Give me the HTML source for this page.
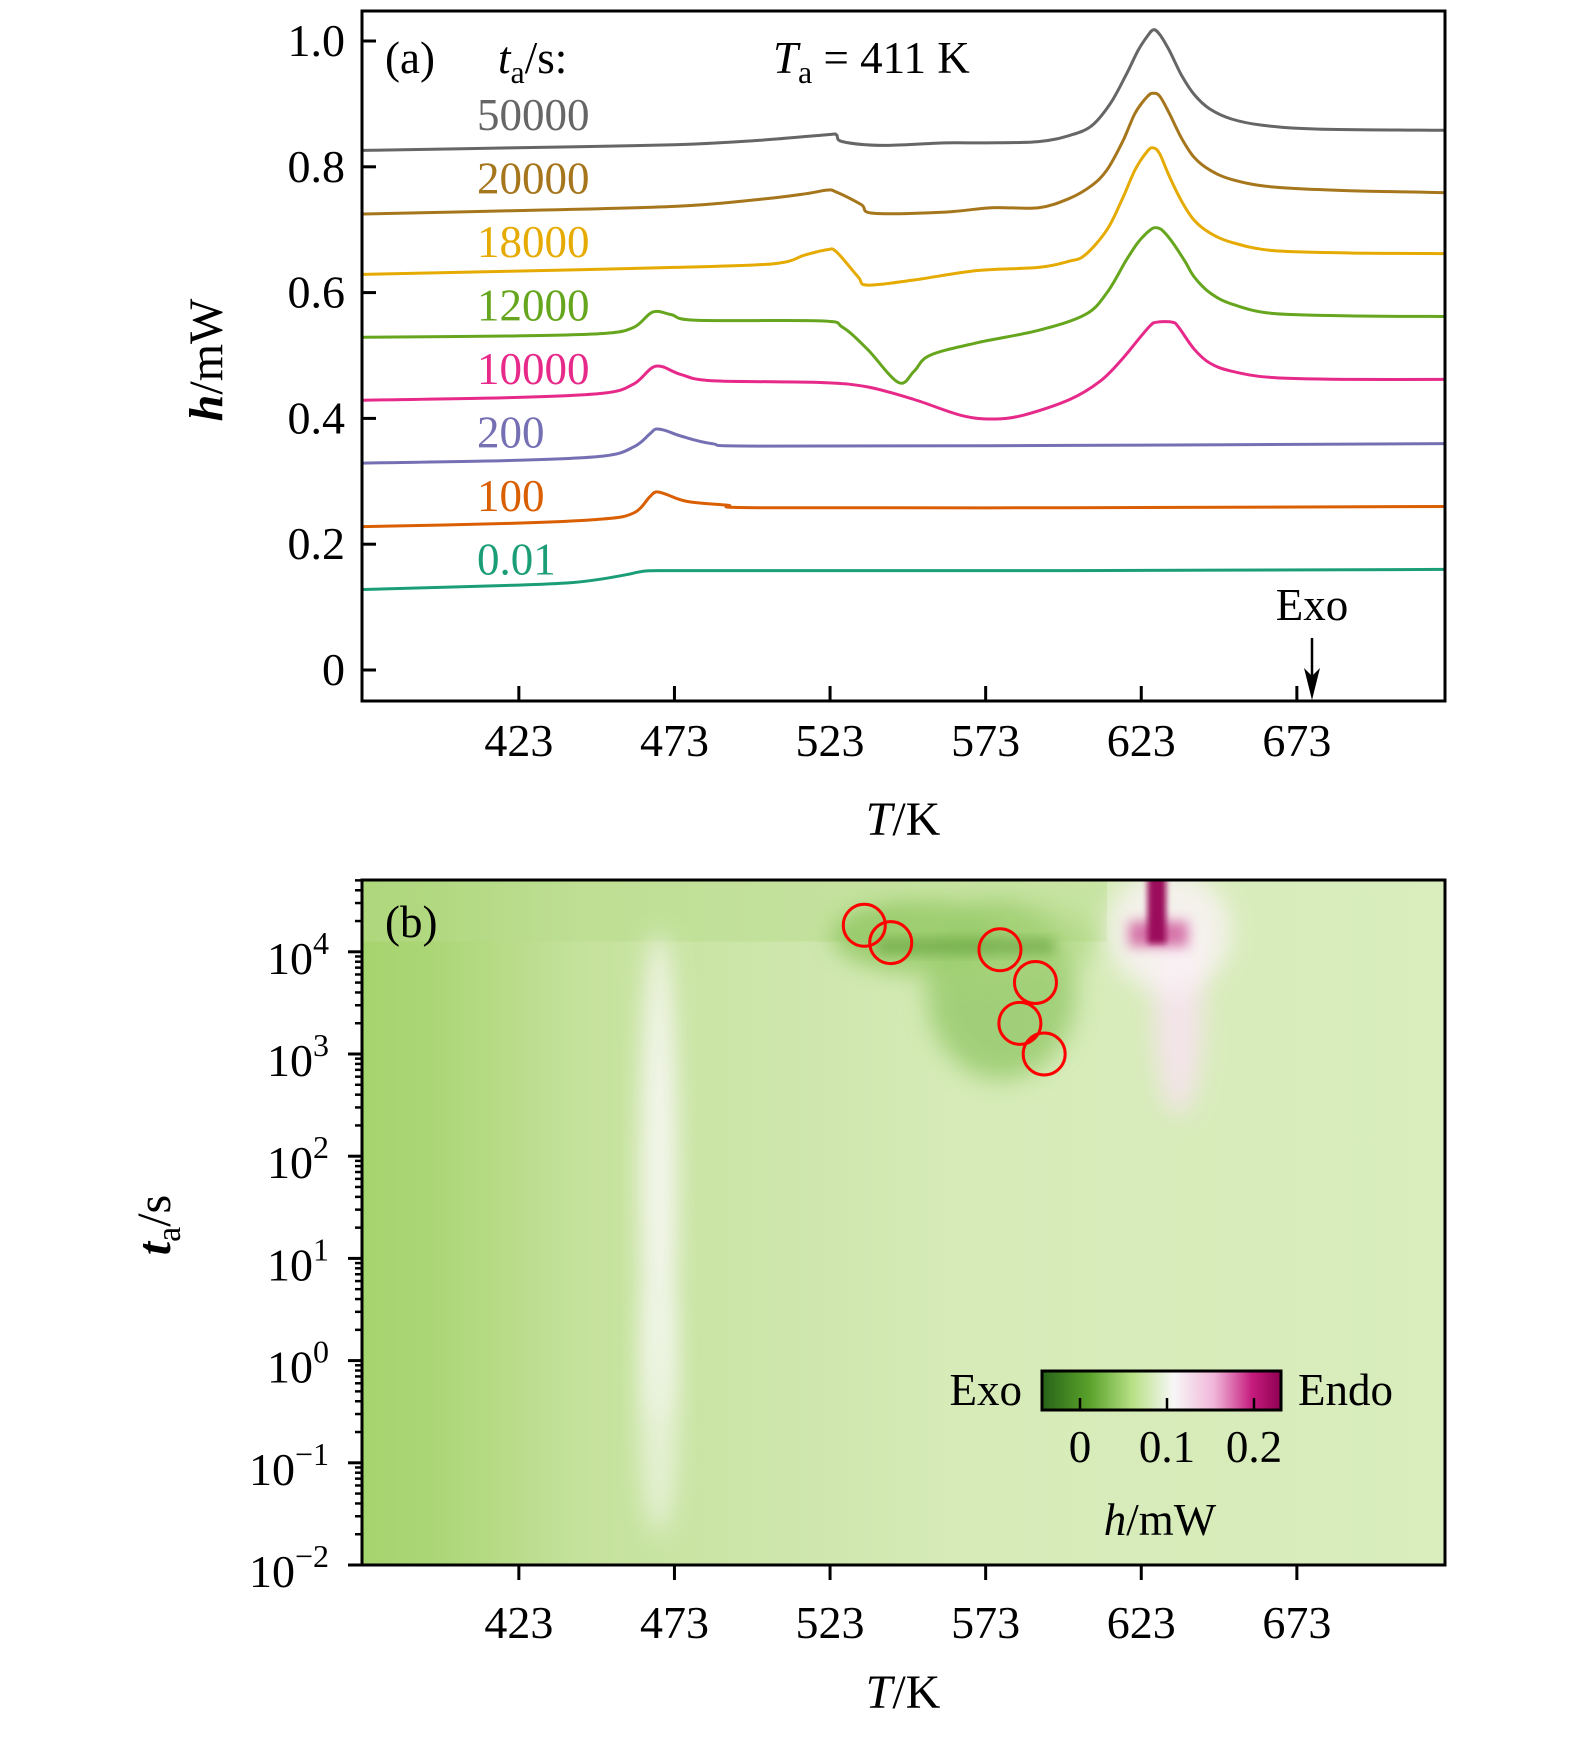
<!DOCTYPE html>
<html><head><meta charset="utf-8"><style>
html,body{margin:0;padding:0;background:#fff}
svg text{font-family:"Liberation Serif",serif;fill:#000}
</style></head><body>
<svg id="chart" width="1575" height="1732" viewBox="0 0 1575 1732" xmlns="http://www.w3.org/2000/svg">
<defs>
<linearGradient id="cbar" x1="0" x2="1" y1="0" y2="0">
<stop offset="0" stop-color="#276419"/><stop offset="0.2" stop-color="#5aa22b"/><stop offset="0.38" stop-color="#b8e186"/><stop offset="0.55" stop-color="#f7f7f7"/><stop offset="0.72" stop-color="#f1b6da"/><stop offset="0.88" stop-color="#c51b7d"/><stop offset="1" stop-color="#8e0152"/>
</linearGradient>
<linearGradient id="baseGrad" x1="0" x2="1" y1="0" y2="0">
<stop offset="0" stop-color="#a6d46e"/><stop offset="0.07" stop-color="#acd677"/><stop offset="0.14" stop-color="#b9dc8a"/><stop offset="0.2" stop-color="#c5e29c"/><stop offset="0.42" stop-color="#cfe7ae"/><stop offset="0.55" stop-color="#d6ebb8"/><stop offset="1" stop-color="#d9edbd"/>
</linearGradient>
<filter id="blur12" x="-50%" y="-50%" width="200%" height="200%"><feGaussianBlur stdDeviation="12"/></filter>
<filter id="blur6" x="-50%" y="-50%" width="200%" height="200%"><feGaussianBlur stdDeviation="6"/></filter>
<filter id="blur3" x="-50%" y="-50%" width="200%" height="200%"><feGaussianBlur stdDeviation="3"/></filter>
<clipPath id="clipB"><rect x="362" y="880" width="1083" height="685"/></clipPath>
<clipPath id="clipA"><rect x="362" y="11" width="1083" height="690"/></clipPath>
</defs>
<g id="panelA"></g>
<g id="panelB"></g>
</svg>
<script>
// ---------- Panel (a) data ----------
const seriesNames = ["50000","20000","18000","12000","10000","200","100","0.01"];
const seriesColors = ["#666666","#a6761d","#e6ab02","#66a61e","#e7298a","#7570b3","#d95f02","#1b9e77"];
const T_50000 = [373,420,473,500,522,525,527,540,560,573,590,600,607,613,618,622,625,627,629,632,636,640,645,652,662,680,721];
const h_50000 = [0.826,0.830,0.835,0.842,0.851,0.851,0.840,0.834,0.838,0.838,0.840,0.850,0.865,0.90,0.945,0.985,1.008,1.018,1.01,0.985,0.945,0.915,0.892,0.876,0.866,0.860,0.858];
const T_20000 = [373,420,473,500,515,522,525,533,537,560,575,590,600,607,612,617,621,625,627,629,632,636,640,645,652,665,690,721];
const h_20000 = [0.725,0.730,0.737,0.748,0.757,0.763,0.760,0.740,0.726,0.728,0.735,0.735,0.750,0.770,0.795,0.840,0.885,0.912,0.917,0.912,0.885,0.845,0.815,0.795,0.780,0.768,0.762,0.759];
const T_18000 = [373,420,473,505,515,522,525,532,535,550,570,590,600,605,612,617,621,625,627,629,632,636,640,645,652,665,690,721];
const h_18000 = [0.629,0.634,0.640,0.646,0.660,0.668,0.665,0.625,0.612,0.620,0.635,0.640,0.650,0.660,0.700,0.750,0.795,0.825,0.830,0.820,0.785,0.745,0.715,0.695,0.680,0.667,0.663,0.662];
const T_12000 = [373,420,450,460,466,472,480,520,527,535,545,550,555,570,590,605,612,618,622,626,628,630,633,637,640,645,652,665,690,721];
const h_12000 = [0.529,0.531,0.535,0.545,0.569,0.565,0.556,0.555,0.545,0.510,0.457,0.475,0.500,0.520,0.540,0.565,0.600,0.650,0.680,0.700,0.703,0.698,0.680,0.650,0.625,0.600,0.582,0.567,0.563,0.562];
const T_10000 = [373,420,450,460,467,475,485,520,535,550,565,575,585,600,610,617,622,626,628,633,635,640,645,652,665,690,721];
const h_10000 = [0.429,0.433,0.440,0.455,0.483,0.470,0.460,0.457,0.450,0.430,0.405,0.399,0.405,0.430,0.460,0.495,0.525,0.548,0.553,0.553,0.545,0.510,0.488,0.475,0.465,0.462,0.462];
const T_200 = [373,420,450,460,465,467,470,475,485,500,600,721];
const h_200 = [0.329,0.333,0.340,0.355,0.375,0.383,0.381,0.372,0.360,0.356,0.357,0.360];
const T_100 = [373,420,450,460,465,467,470,477,490,500,600,721];
const h_100 = [0.228,0.233,0.240,0.250,0.275,0.283,0.280,0.268,0.262,0.258,0.258,0.260];
const T_001 = [373,423,440,450,458,463,470,500,600,721];
const h_001 = [0.128,0.135,0.139,0.145,0.152,0.157,0.158,0.158,0.158,0.160];
const seriesT = [T_50000,T_20000,T_18000,T_12000,T_10000,T_200,T_100,T_001];
const seriesH = [h_50000,h_20000,h_18000,h_12000,h_10000,h_200,h_100,h_001];
const xTicks = [423,473,523,573,623,673];
const yTicksA = [0,0.2,0.4,0.6,0.8,1.0];
const yTickLabelsA = ["0","0.2","0.4","0.6","0.8","1.0"];
// ---------- Panel (b) data ----------
const circleT = [534,542.5,577.6,589,584,591.8];
const circleLogT = [4.26,4.09,4.02,3.70,3.30,3.00];
const yTicksBexp = [-2,-1,0,1,2,3,4];
const cbarTicks = [0,0.1,0.2];
const cbarLabels = ["0","0.1","0.2"];
const blobT = [468,468,578,550,570,635,632];
const blobLog = [1.8,-0.5,3.6,4.15,4.1,3.4,4.2];
const blobRT = [6,6,24,26,40,8,20];
const blobRL = [2.4,1.2,0.85,0.3,0.4,1.0,0.6];
const blobColor = ["#f7f7f2","#eef5e4","#8cc45e","#7ab94a","#a8d47a","#f7e3ef","#fbf3f7"];
const blobOpacity = [0.95,0.8,0.7,0.7,0.55,0.9,0.8];

const NS="http://www.w3.org/2000/svg";
function mk(tag, attrs, parent, text){const e=document.createElementNS(NS,tag);for(const k in attrs)e.setAttribute(k,attrs[k]);if(text!==undefined)e.textContent=text;parent.appendChild(e);return e;}

const X0=362,X1=1445,TMIN=372.6,TMAX=720.6;
function xs(T){return X0+(T-TMIN)/(TMAX-TMIN)*(X1-X0);}
const YA0=670,YA_PER=629;
function ya(h){return YA0-h*YA_PER;}
const YB_BOT=1565,YB_DEC=102.2;
function yb(l){return YB_BOT-(l+2)*YB_DEC;}
function smoothPath(p){
  let d='M'+p[0][0].toFixed(1)+','+p[0][1].toFixed(1);
  for(let i=0;i<p.length-1;i++){
    const p0=p[Math.max(0,i-1)],p1=p[i],p2=p[i+1],p3=p[Math.min(p.length-1,i+2)];
    const c1x=p1[0]+(p2[0]-p0[0])/6,c1y=p1[1]+(p2[1]-p0[1])/6;
    const c2x=p2[0]-(p3[0]-p1[0])/6,c2y=p2[1]-(p3[1]-p1[1])/6;
    d+=' C'+c1x.toFixed(1)+','+c1y.toFixed(1)+' '+c2x.toFixed(1)+','+c2y.toFixed(1)+' '+p2[0].toFixed(1)+','+p2[1].toFixed(1);
  }
  return d;
}

const A=document.getElementById('panelA');
const B=document.getElementById('panelB');

const curves=mk('g',{'clip-path':'url(#clipA)'},A);


for(let i=0;i<seriesNames.length;i++){
  const pts=seriesT[i].map((t,j)=>[xs(t),ya(seriesH[i][j])]);
  const pl=mk('path',{d:smoothPath(pts),fill:'none',stroke:seriesColors[i],'stroke-width':3,'stroke-linejoin':'round'},curves);
  
  
  const lb=mk('text',{x:477,y:130+i*63.5,'font-size':45,fill:seriesColors[i],style:'fill:'+seriesColors[i]},A,seriesNames[i]);
  
  
}
const frameA=mk('rect',{x:X0,y:11,width:X1-X0,height:690,fill:'none',stroke:'#000','stroke-width':3},A);


xTicks.forEach(t=>{
  const tk=mk('line',{x1:xs(t),x2:xs(t),y1:701,y2:686,stroke:'#000','stroke-width':3},A);
  
  
  const tl=mk('text',{x:xs(t),y:756,'font-size':46,'text-anchor':'middle'},A,String(t));
  
  
});
yTicksA.forEach((v,i)=>{
  const tk=mk('line',{x1:X0,x2:X0+14,y1:ya(v),y2:ya(v),stroke:'#000','stroke-width':3},A);
  
  
  const tl=mk('text',{x:345,y:ya(v)+15,'font-size':46,'text-anchor':'end'},A,yTickLabelsA[i]);
  
  
});
let t;
t=mk('text',{x:903,y:835,'font-size':48,'text-anchor':'middle'},A);
t.innerHTML='<tspan font-style="italic">T</tspan>/K';


t=mk('text',{x:0,y:0,'font-size':48,'text-anchor':'middle',transform:'translate(222,360) rotate(-90)'},A);
t.innerHTML='<tspan font-style="italic" font-weight="bold">h</tspan>/mW';


t=mk('text',{x:385,y:73,'font-size':45},A,'(a)');


t=mk('text',{x:498,y:73,'font-size':45},A);
t.innerHTML='<tspan font-style="italic">t</tspan><tspan font-size="32" dy="10">a</tspan><tspan dy="-10">/s:</tspan>';


t=mk('text',{x:773,y:73,'font-size':45},A);
t.innerHTML='<tspan font-style="italic">T</tspan><tspan font-size="32" dy="10">a</tspan><tspan dy="-10"> = 411  K</tspan>';


t=mk('text',{x:1312,y:620,'font-size':45,'text-anchor':'middle'},A,'Exo');


const arrow=mk('g',{},A);


mk('line',{x1:1312,x2:1312,y1:638,y2:690,stroke:'#000','stroke-width':2.5},arrow);
mk('path',{d:'M1304,668 L1312,700 L1320,668 L1312,676 Z',fill:'#000'},arrow);

// ----- Panel B -----
const heat=mk('g',{'clip-path':'url(#clipB)'},B);


mk('rect',{x:X0,y:880,width:X1-X0,height:685,fill:'url(#baseGrad)'},heat);
mk('rect',{x:X0,y:880,width:xs(612)-X0,height:yb(4.1)-880,fill:'#b8dc8c',opacity:0.5},heat);
for(let i=0;i<blobT.length;i++){
  const e=mk('ellipse',{cx:xs(blobT[i]),cy:yb(blobLog[i]),rx:blobRT[i]*3.11,ry:blobRL[i]*YB_DEC,fill:blobColor[i],opacity:blobOpacity[i],filter:'url(#blur12)'},heat);
  
  
}
const streak=mk('rect',{x:xs(538),y:yb(4.12),width:xs(595)-xs(538),height:14,fill:'#5e9e38',opacity:0.6,filter:'url(#blur6)'},heat);


const endo1=mk('rect',{x:xs(619),y:yb(4.3),width:xs(638)-xs(619),height:yb(4.05)-yb(4.3),fill:'#d0609e',opacity:0.85,filter:'url(#blur6)'},heat);


const endo2=mk('rect',{x:xs(625),y:870,width:xs(631)-xs(625),height:yb(4.08)-870,fill:'#9b0a5c',filter:'url(#blur3)'},heat);


for(let i=0;i<circleT.length;i++){
  const c=mk('circle',{cx:xs(circleT[i]),cy:yb(circleLogT[i]),r:21,fill:'none',stroke:'#ff0000','stroke-width':3},B);
  
  
}
const frameB=mk('rect',{x:X0,y:880,width:X1-X0,height:685,fill:'none',stroke:'#000','stroke-width':3},B);


xTicks.forEach(tv=>{
  const tk=mk('line',{x1:xs(tv),x2:xs(tv),y1:1565,y2:1580,stroke:'#000','stroke-width':3},B);
  
  
  const tl=mk('text',{x:xs(tv),y:1638,'font-size':46,'text-anchor':'middle'},B,String(tv));
  
  
});
yTicksBexp.forEach(ex=>{
  const tk=mk('line',{x1:X0-14,x2:X0,y1:yb(ex),y2:yb(ex),stroke:'#000','stroke-width':3},B);
  
  
  for(let m=2;m<=9;m++){
    const l=ex+Math.log10(m);
    if(yb(l)<880)continue;
    const mt=mk('line',{x1:X0-7,x2:X0,y1:yb(l),y2:yb(l),stroke:'#000','stroke-width':2.5},B);
    
    
  }
  const tl=mk('text',{x:329,y:yb(ex)+22,'font-size':46,'text-anchor':'end'},B);
  tl.innerHTML='10<tspan font-size="32" dy="-20">'+(ex<0?'\u2212'+(-ex):ex)+'</tspan>';
  
  
});
t=mk('text',{x:903,y:1708,'font-size':48,'text-anchor':'middle'},B);
t.innerHTML='<tspan font-style="italic">T</tspan>/K';


t=mk('text',{x:0,y:0,'font-size':48,'text-anchor':'middle',transform:'translate(170,1225) rotate(-90)'},B);
t.innerHTML='<tspan font-style="italic" font-weight="bold">t</tspan><tspan font-size="34" dy="10">a</tspan><tspan dy="-10">/s</tspan>';


t=mk('text',{x:385,y:937,'font-size':45},B,'(b)');


const cb=mk('g',{},B);


mk('rect',{x:1042,y:1371,width:239,height:39,fill:'url(#cbar)',stroke:'#000','stroke-width':3},cb);
const cbX=v=>1080+(v/0.2)*(1254-1080);
cbarTicks.forEach((v,i)=>{
  mk('line',{x1:cbX(v),x2:cbX(v),y1:1410,y2:1398,stroke:'#000','stroke-width':2.5},cb);
  const tl=mk('text',{x:cbX(v),y:1462,'font-size':45,'text-anchor':'middle'},cb,cbarLabels[i]);
  
  
});
t=mk('text',{x:1022,y:1405,'font-size':45,'text-anchor':'end'},B,'Exo');


t=mk('text',{x:1298,y:1405,'font-size':45},B,'Endo');


t=mk('text',{x:1160,y:1535,'font-size':45,'text-anchor':'middle'},B);
t.innerHTML='<tspan font-style="italic">h</tspan>/mW';


</script>
</body></html>
